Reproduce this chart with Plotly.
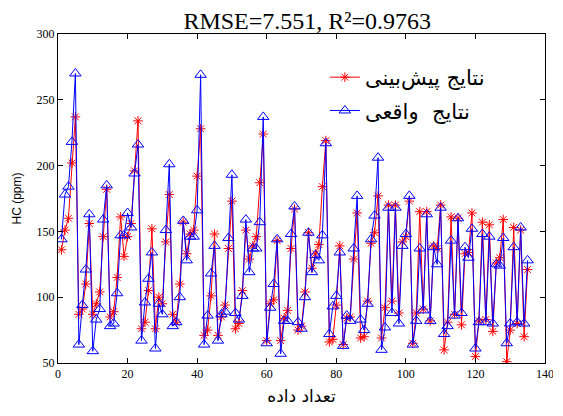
import plotly.graph_objects as go

x_index = list(range(1, 136))

actual = [144, 178, 184, 218, 270, 64, 94, 121, 163, 59,
          83, 91, 159, 185, 78, 80, 103, 147, 147, 164,
          153, 194, 216, 67, 96, 114, 134, 61, 95, 87,
          151, 201, 78, 81, 100, 158, 128, 146, 146, 166,
          269, 64, 86, 118, 139, 67, 87, 89, 145, 193,
          88, 83, 101, 159, 119, 137, 137, 157, 237, 65,
          92, 110, 144, 57, 82, 82, 148, 169, 81, 76,
          100, 149, 119, 132, 128, 147, 217, 72, 93, 101,
          134, 63, 86, 82, 137, 177, 83, 75, 95, 144,
          162, 206, 60, 77, 168, 88, 168, 80, 139, 148,
          177, 64, 82, 137, 90, 163, 82, 138, 125, 168,
          72, 78, 143, 86, 160, 88, 138, 130, 152, 61,
          81, 148, 81, 146, 80, 125, 124, 145, 65, 80,
          138, 81, 153, 80, 128]

predicted = [136, 151, 160, 202, 237, 87, 91, 110, 156, 87,
             95, 104, 146, 182, 85, 89, 115, 161, 131, 146,
             156, 196, 234, 76, 81, 105, 152, 76, 100, 95,
             142, 178, 87, 81, 110, 157, 133, 148, 151, 192,
             228, 71, 75, 101, 148, 71, 85, 94, 137, 173,
             76, 80, 105, 151, 129, 139, 146, 187, 224, 67,
             95, 98, 143, 67, 84, 90, 137, 167, 75, 78,
             104, 149, 122, 133, 140, 184, 219, 66, 68, 94,
             139, 64, 84, 85, 129, 164, 69, 70, 97, 141,
             149, 177, 69, 92, 170, 97, 170, 88, 142, 146,
             173, 65, 88, 165, 91, 165, 82, 139, 137, 170,
             60, 81, 161, 87, 160, 79, 133, 134, 164, 55,
             82, 157, 83, 155, 74, 126, 130, 159, 51, 75,
             153, 80, 151, 70, 121]

x_ticks = [0, 20, 40, 60, 80, 100, 120, 140]
y_ticks = [50, 100, 150, 200, 250, 300]

title_text = "RMSE=7.551, R²=0.9763"
name_pred = "نتایج پیش‌بینی"
name_act = "نتایج  واقعی"
x_title = "تعداد داده"
y_title = "HC (ppm)"

fig = go.Figure()
fig.add_trace(go.Scatter(
    x=x_index, y=predicted, mode="lines+markers", name=name_pred,
    legendgroup="p",
    line=dict(color="#FF0000", width=1),
    marker=dict(symbol="asterisk-open", size=8, color="#FF0000",
                line=dict(color="#FF0000", width=1)),
))
fig.add_trace(go.Scatter(
    x=x_index, y=actual, mode="lines+markers", name=name_act,
    legendgroup="a",
    line=dict(color="#0000FF", width=1),
    marker=dict(symbol="triangle-up-open", size=10, color="#0000FF",
                line=dict(color="#0000FF", width=1)),
))

# the page body keeps an 8px margin; size the figure so nothing overflows the window
fig.update_layout(
    width=545, height=398,
    margin=dict(l=50, r=8, t=26, b=43, autoexpand=False),
    paper_bgcolor="white", plot_bgcolor="white",
    title=dict(text=title_text, x=0.549, xanchor="center", y=0.968, yanchor="middle",
               font=dict(family="Liberation Serif", size=24, color="black")),
    showlegend=True,
    legend=dict(x=0.548, y=0.93, xanchor="left", yanchor="top",
                bgcolor="rgba(0,0,0,0)", borderwidth=0,
                tracegroupgap=3,
                font=dict(family="DejaVu Sans", size=21, color="black")),
    font=dict(family="Liberation Serif", size=12, color="black"),
)
fig.update_xaxes(
    range=[0, 140], tickvals=x_ticks, ticktext=[str(v) for v in x_ticks],
    automargin=False, ticklabeloverflow="allow",
    showline=True, mirror="ticks", linecolor="black", linewidth=1,
    ticks="inside", ticklen=5, tickcolor="black", showgrid=False, zeroline=False,
    tickfont=dict(family="Liberation Serif", size=12, color="black"),
    title=dict(text=x_title, standoff=9,
               font=dict(family="DejaVu Sans", size=17, color="black")),
)
fig.update_yaxes(
    range=[50, 300], tickvals=y_ticks, ticktext=[str(v) for v in y_ticks],
    automargin=False,
    showline=True, mirror="ticks", linecolor="black", linewidth=1,
    ticks="inside", ticklen=5, tickcolor="black", showgrid=False, zeroline=False,
    tickfont=dict(family="Liberation Serif", size=12, color="black"),
    title=dict(text=y_title, standoff=12,
               font=dict(family="Liberation Sans", size=12, color="black")),
)

fig.write_html("out.html")
